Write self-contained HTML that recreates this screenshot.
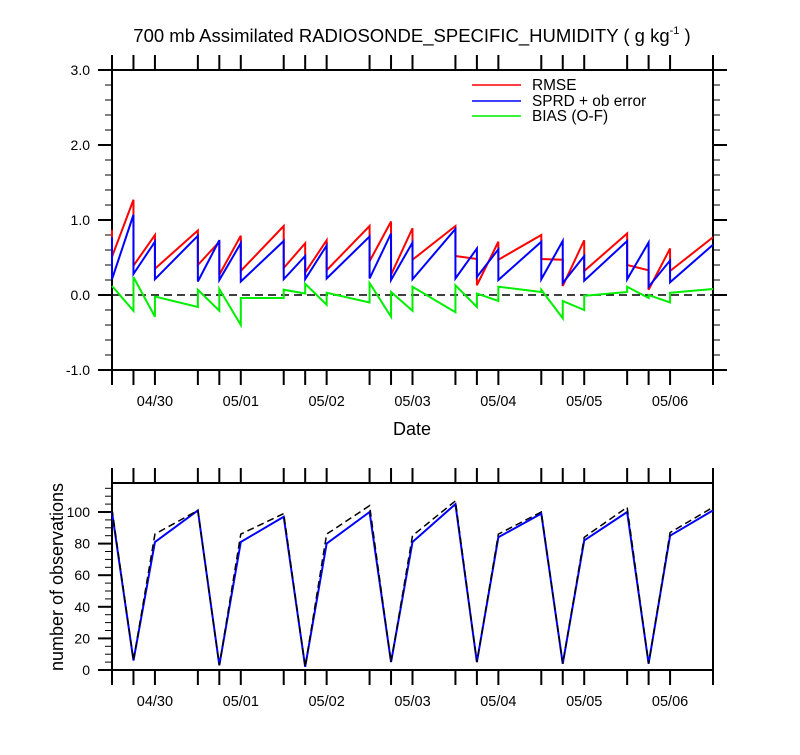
<!DOCTYPE html>
<html><head><meta charset="utf-8"><style>
body{margin:0;background:#fff}
svg{font-family:"Liberation Sans",Arial,sans-serif}
</style></head><body>
<svg id="chart" width="800" height="750" viewBox="0 0 800 750" xmlns="http://www.w3.org/2000/svg">
<text x="412" y="42" font-size="18.5" text-anchor="middle">700 mb Assimilated RADIOSONDE_SPECIFIC_HUMIDITY ( g kg<tspan font-size="11" dy="-8">-1</tspan><tspan dy="8"> )</tspan></text>
<g id="topPanel"></g>
<g id="botPanel"></g>
<text x="412" y="435" font-size="18" text-anchor="middle">Date</text>
<text transform="translate(63,577) rotate(-90)" font-size="18" text-anchor="middle">number of observations</text>
<g>
<line x1="472" y1="85" x2="521" y2="85" stroke="#f00" stroke-width="1.5"/>
<text x="532" y="90" font-size="15.4">RMSE</text>
<line x1="472" y1="101" x2="521" y2="101" stroke="#00f" stroke-width="1.5"/>
<text x="532" y="106" font-size="15.4">SPRD + ob error</text>
<line x1="472" y1="116" x2="521" y2="116" stroke="#0e0" stroke-width="1.5"/>
<text x="532" y="121" font-size="15.4">BIAS (O-F)</text>
</g>
</svg>
<script>
// hours since 04/29 12Z
const times=[0,6,12,24,30,36,48,54,60,72,78,84,96,102,108,120,126,132,144,150,156,168];
const dateLabels=["04/30","05/01","05/02","05/03","05/04","05/05","05/06"];
const dateHours=[12,36,60,84,108,132,156];
// top panel: values arriving at / leaving each time
const rmseIn=[0.87,1.27,0.80,0.86,0.71,0.79,0.92,0.69,0.73,0.92,0.98,0.89,0.92,0.48,0.71,0.80,0.47,0.73,0.82,0.33,0.62,0.77];
const rmseOut=[0.51,0.39,0.35,0.40,0.27,0.32,0.36,0.30,0.33,0.45,0.27,0.47,0.52,0.13,0.47,0.48,0.12,0.32,0.40,0.07,0.32,0.77];
const sprdIn=[0.77,1.07,0.71,0.79,0.73,0.69,0.72,0.52,0.66,0.78,0.82,0.70,0.88,0.62,0.61,0.71,0.72,0.52,0.72,0.70,0.46,0.67];
const sprdOut=[0.21,0.28,0.21,0.18,0.20,0.18,0.21,0.21,0.22,0.22,0.20,0.21,0.22,0.24,0.20,0.21,0.16,0.19,0.21,0.11,0.17,0.67];
const biasIn=[0.12,-0.21,-0.29,-0.16,-0.21,-0.40,-0.04,0.02,-0.13,-0.10,-0.29,-0.21,-0.23,-0.16,-0.08,0.04,-0.31,-0.20,0.04,-0.04,-0.10,0.08];
const biasOut=[0.12,0.24,-0.02,0.07,0.08,-0.04,0.07,0.15,0.03,0.16,0.04,0.11,0.13,0.02,0.11,0.07,-0.08,-0.01,0.11,0.00,0.03,0.08];
const topTicks=[-1,0,1,2,3];
// bottom panel counts
const obsUsed=[100,6,81,101,3,81,97,2,80,100,5,81,105,5,84,99,4,82,100,4,85,101];
const obsTotal=[102,6,86,101,3,86,99,2,86,104,5,85,107,5,86,100,4,84,103,4,87,103];
const botTicks=[0,20,40,60,80,100];

const NS="http://www.w3.org/2000/svg";
const X0=112,X1=713;
const xs=h=>X0+h*(X1-X0)/168;
const yT=v=>295-75*v;
const yB=v=>670-1.58*v;
function mk(parent,tag,attrs){const e=document.createElementNS(NS,tag);for(const k in attrs)e.setAttribute(k,attrs[k]);parent.appendChild(e);return e;}
const gTop=document.getElementById('topPanel'),gBot=document.getElementById('botPanel');

function frame(g,yTop,yBot,ys,ticks,minorStep,lo,hi,fmt,prefix){
  let r=mk(g,'rect',{x:X0,y:yTop,width:X1-X0,height:yBot-yTop,fill:'none',stroke:'#000','stroke-width':2});
  
  
  times.forEach(h=>{
    let a=mk(g,'line',{x1:xs(h),x2:xs(h),y1:yTop-15,y2:yTop,stroke:'#000','stroke-width':2});
    
    
    let b=mk(g,'line',{x1:xs(h),x2:xs(h),y1:yBot,y2:yBot+15,stroke:'#000','stroke-width':2});
    
    
  });
  dateLabels.forEach((d,i)=>{
    let t=mk(g,'text',{x:xs(dateHours[i]),y:yBot+36,'font-size':14.5,'text-anchor':'middle'});
    t.textContent=d;
    
    
  });
  for(let v=lo;v<=hi+1e-6;v+=minorStep){
    const maj=ticks.some(t=>Math.abs(t-v)<1e-6);
    const L=maj?14:7;
    let a=mk(g,'line',{x1:X0-L,x2:X0,y1:ys(v),y2:ys(v),stroke:'#000','stroke-width':maj?2:1});
    
    
    if(prefix==='top'){
      let b=mk(g,'line',{x1:X1,x2:X1+L,y1:ys(v),y2:ys(v),stroke:'#000','stroke-width':maj?2:1});
      
      
    }
  }
  ticks.forEach(v=>{
    let t=mk(g,'text',{x:X0-22,y:ys(v)+5,'font-size':14,'text-anchor':'end'});
    t.textContent=fmt(v);
    
    
  });
}
frame(gTop,70,370,yT,topTicks,0.2,-1,3,v=>v.toFixed(1),'top');
frame(gBot,483,670,yB,botTicks,5,0,115,v=>String(v),'bottom');

let z=mk(gTop,'line',{x1:X0,x2:X1,y1:yT(0),y2:yT(0),stroke:'#000','stroke-width':1.5,'stroke-dasharray':'8,5'});



function saw(inA,outA){let p=[];times.forEach((h,i)=>{p.push(xs(h)+','+yT(inA[i]));p.push(xs(h)+','+yT(outA[i]));});return p.join(' ');}
let s1=mk(gTop,'polyline',{points:saw(biasIn,biasOut),fill:'none',stroke:'#0e0','stroke-width':2});


let s2=mk(gTop,'polyline',{points:saw(rmseIn,rmseOut),fill:'none',stroke:'#f00','stroke-width':2});


let s3=mk(gTop,'polyline',{points:saw(sprdIn,sprdOut),fill:'none',stroke:'#00f','stroke-width':2});



let b2=mk(gBot,'polyline',{points:times.map((h,i)=>xs(h)+','+yB(obsUsed[i])).join(' '),fill:'none',stroke:'#00f','stroke-width':2});


let b1=mk(gBot,'polyline',{points:times.map((h,i)=>xs(h)+','+yB(obsTotal[i])).join(' '),fill:'none',stroke:'#000','stroke-width':1.5,'stroke-dasharray':'7,4'});


</script>
</body></html>
